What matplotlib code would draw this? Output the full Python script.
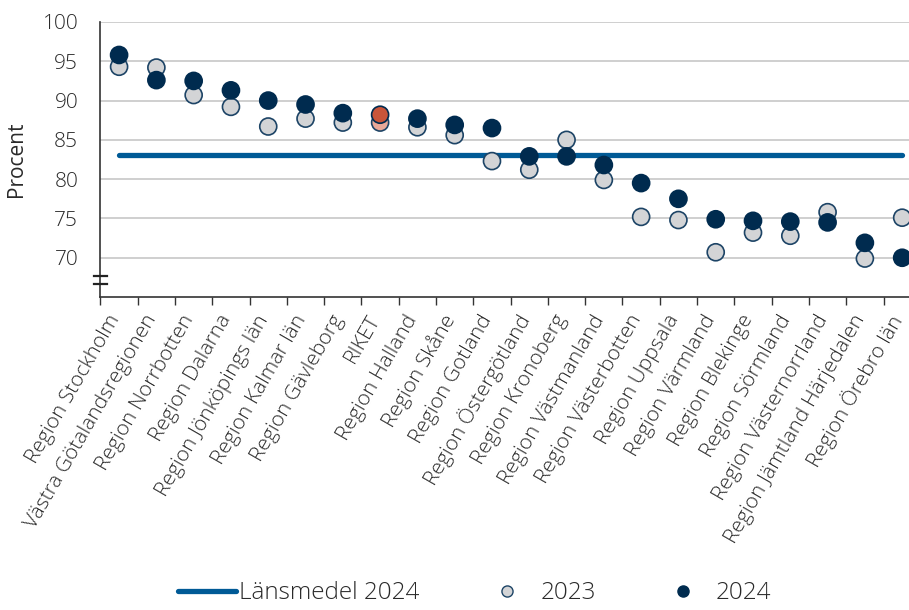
import numpy as np
import matplotlib
matplotlib.use("Agg")
import matplotlib.pyplot as plt
import matplotlib.transforms as mtransforms
from matplotlib.lines import Line2D

plt.rcParams["font.family"] = ["Open Sans", "DejaVu Sans"]
plt.rcParams["font.weight"] = "light"

regions = [
    "Region Stockholm", "Västra Götalandsregionen", "Region Norrbotten",
    "Region Dalarna", "Region Jönköpings län", "Region Kalmar län",
    "Region Gävleborg", "RIKET", "Region Halland", "Region Skåne",
    "Region Gotland", "Region Östergötland", "Region Kronoberg",
    "Region Västmanland", "Region Västerbotten", "Region Uppsala",
    "Region Värmland", "Region Blekinge", "Region Sörmland",
    "Region Västernorrland", "Region Jämtland Härjedalen", "Region Örebro län",
]
values_2023 = [94.3, 94.2, 90.7, 89.2, 86.7, 87.7, 87.2, 87.2, 86.6, 85.6, 82.3,
               81.2, 85.0, 79.9, 75.2, 74.8, 70.7, 73.2, 72.8, 75.8, 69.9, 75.1]
values_2024 = [95.8, 92.6, 92.5, 91.3, 90.0, 89.5, 88.4, 88.2, 87.7, 86.9, 86.5,
               82.9, 82.9, 81.8, 79.5, 77.5, 74.9, 74.7, 74.6, 74.5, 71.9, 70.0]
lansmedel_2024 = 83.1

navy = "#002b4f"
light = "#d3d4d6"
line_blue = "#005a96"
riket_2024 = "#c9553a"
riket_2023 = "#e9a898"
text_col = "#2a2a2a"

fig = plt.figure(figsize=(9.09, 6.10), dpi=100)
ax = fig.add_axes([0.1105, 0.513, 0.9025, 0.451])

x = np.arange(len(regions))
riket = regions.index("RIKET")
fill_23 = [riket_2023 if i == riket else light for i in x]
fill_24 = [riket_2024 if i == riket else navy for i in x]

ax.plot([x[0], x[-1]], [lansmedel_2024] * 2, color=line_blue, lw=3.8,
        solid_capstyle="round", zorder=2)
ax.scatter(x, values_2023, s=150, c=fill_23, edgecolors="#1d4466",
           linewidths=1.2, zorder=3)
ax.scatter(x, values_2024, s=150, c=fill_24, edgecolors=navy,
           linewidths=1.2, zorder=4)

ax.set_xlim(-0.5, len(regions) - 0.5)
ax.set_ylim(65, 100)
ax.set_yticks([70, 75, 80, 85, 90, 95, 100])
ax.tick_params(axis="y", length=0, labelsize=15, labelcolor=text_col, pad=16)
ax.grid(axis="y", color="#cccccc", lw=1.3)
ax.set_axisbelow(True)

# category labels in the middle, tick marks on the boundaries
ax.set_xticks(x)
ax.set_xticklabels(regions, rotation=60, ha="right", va="center",
                   rotation_mode="anchor", fontsize=15, color=text_col)
ax.tick_params(axis="x", which="major", length=0, pad=14)
ax.set_xticks(np.arange(-0.5, len(regions), 1), minor=True)
ax.tick_params(axis="x", which="minor", length=6, width=1, color="#333333")

# nudge the rotated labels a little to the left
shift = mtransforms.ScaledTranslation(-4 / 100, 0, fig.dpi_scale_trans)
for lbl in ax.get_xticklabels():
    lbl.set_transform(lbl.get_transform() + shift)

for side in ["top", "right"]:
    ax.spines[side].set_visible(False)
for side in ["left", "bottom"]:
    ax.spines[side].set_color("#333333")
    ax.spines[side].set_linewidth(1.2)

# y-axis break marks
for yb in [0.078, 0.049]:
    ax.plot([-0.008, 0.008], [yb, yb], transform=ax.transAxes, color="#222222",
            lw=1.6, clip_on=False, zorder=5)

ax.set_ylabel("Procent", fontsize=15, color=text_col, labelpad=11)

handles = [
    Line2D([], [], color=line_blue, lw=3.8, solid_capstyle="round"),
    Line2D([], [], ls="none", marker="o", ms=8, mfc=light, mec="#1d4466", mew=1),
    Line2D([], [], ls="none", marker="o", ms=8, mfc=navy, mec=navy, mew=1),
]
fig.legend(handles, ["Länsmedel 2024", "2023", "2024"], loc="lower center",
           bbox_to_anchor=(0.522, -0.028), ncol=3, frameon=False, fontsize=17.5,
           handlelength=2.4, handletextpad=0.15, columnspacing=2.4,
           labelcolor=text_col)

fig.savefig("out.png", dpi=100)
